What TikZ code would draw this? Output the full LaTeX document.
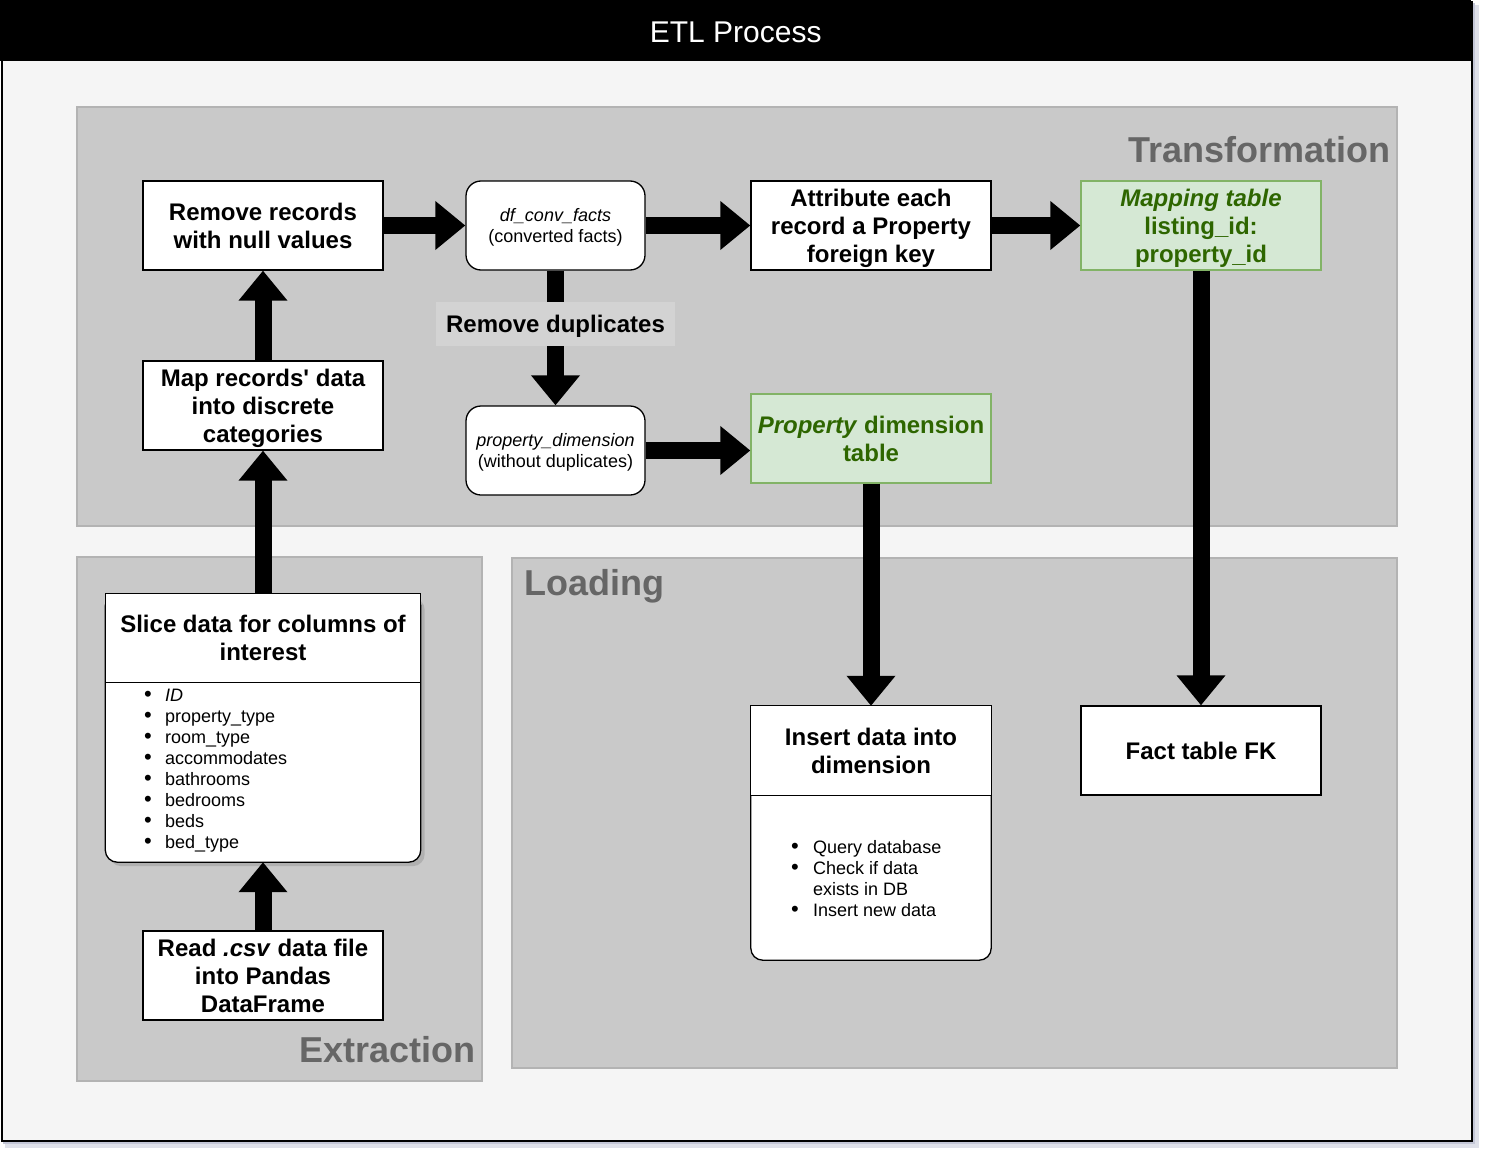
\documentclass[tikz,border=0pt]{standalone}
\usepackage{fontspec}
\newfontfamily\lsans{Liberation Sans}
\usetikzlibrary{arrows.meta,shadows,calc}
\definecolor{bgc}{HTML}{F5F5F5}
\definecolor{regc}{HTML}{C9C9C9}
\definecolor{regl}{HTML}{B3B3B3}
\definecolor{labc}{HTML}{D3D3D3}
\definecolor{regt}{HTML}{666666}
\definecolor{gfill}{HTML}{D5E8D4}
\definecolor{gline}{HTML}{82B366}
\definecolor{gtext}{HTML}{2E6600}
\definecolor{shc}{HTML}{C3C6D6}
\newcommand{\bTop}{\rule{0pt}{23pt}}
\newcommand{\bBot}{\rule[-5.7pt]{0pt}{5.7pt}}
\newcommand{\sTop}{\rule{0pt}{17.5pt}}
\newcommand{\sBot}{\rule[-4.6pt]{0pt}{4.6pt}}
\begin{document}
\begin{tikzpicture}[x=1pt,y=-1pt,
  region/.style={draw=regl, line width=2pt, fill=regc, inner sep=0pt},
  bfont/.style={font=\lsans\bfseries\fontsize{24}{28}\selectfont},
  sfont/.style={font=\lsans\fontsize{18}{21}\selectfont},
  box/.style={draw=black, line width=1.3pt, fill=white, minimum width=240pt, minimum height=89pt, align=center, inner sep=0pt, bfont},
  gbox/.style={box, fill=gfill, draw=gline, text=gtext},
  rbox/.style={draw=black, line width=1.3pt, fill=white, minimum height=89pt, align=center, inner sep=0pt, rounded corners=15pt, minimum width=179pt, sfont},
  blk/.style={line width=17pt, -{Triangle[length=30pt,width=47pt]}},
  reglabel/.style={font=\lsans\bfseries\fontsize{36}{42}\selectfont, text=regt, inner sep=0pt},
  item/.style={font=\lsans\fontsize{18}{21}\selectfont, inner sep=0pt},
  bul/.style={font=\lsans\fontsize{22}{21}\selectfont, inner sep=0pt},
  plain/.style={draw=black, line width=1.3pt, fill=white}
]
\useasboundingbox (0,0) rectangle (1486,1156);
% outer frame with shadow
\fill[shc!55] (5,5) rectangle (1479,1148);
\fill[shc] (3,3) rectangle (1475,1144);
\node[draw=black, line width=2pt, fill=bgc, minimum width=1470pt, minimum height=1139pt, anchor=north west, inner sep=0pt] (frame) at (1,1) {};
\node[fill=black, minimum width=1471pt, minimum height=61pt, anchor=north west, inner sep=0pt, text=white, font=\lsans\fontsize{30}{34}\selectfont] (title) at (0,0) {\rule{0pt}{24pt}ETL Process};

% regions
\node[region, minimum width=1320pt, minimum height=419pt, anchor=north west] (trans) at (76,106) {};
\node[region, minimum width=405pt, minimum height=524pt, anchor=north west] (extr) at (76,556) {};
\node[region, minimum width=885pt, minimum height=510pt, anchor=north west] (load) at (511,557) {};
\node[reglabel, anchor=base east] (translab) at (1391,162) {Transformation};
\node[reglabel, anchor=base west] (loadlab) at (524,595) {Loading};
\node[reglabel, anchor=base east] (extrlab) at (476,1062) {Extraction};

% transformation boxes
\node[box] (rr) at (263,225.5) {\bTop Remove records\\with null values\bBot};
\node[rbox] (dc) at (555.5,225.5) {\sTop\textit{df\_conv\_facts}\\(converted facts)\sBot};
\node[box] (att) at (871,225.5) {\bTop Attribute each\\record a Property\\foreign key\bBot};
\node[gbox] (mt) at (1201,225.5) {\bTop\textit{Mapping table}\\listing\_id:\\property\_id\bBot};
\node[rbox] (pdim) at (555.5,450.5) {\sTop\textit{property\_dimension}\\(without duplicates)\sBot};
\node[gbox] (pdt) at (871,438.5) {\bTop\textit{Property} dimension\\table\bBot};
\node[box] (mrec) at (263,405.5) {\bTop Map records' data\\into discrete\\categories\bBot};

% extraction
\node[minimum width=315pt, minimum height=268pt, inner sep=0pt] (slice) at (263,728) {};
\draw[plain, rounded corners=12pt, drop shadow={shadow xshift=4pt, shadow yshift=-4pt, fill=black!40}] (slice.north west) rectangle (slice.south east);
\draw[plain] (slice.north west) rectangle ($(slice.north east)+(0,89)$);
\node[bfont, align=center, inner sep=0pt] (slhead) at ($(slice.north)+(0,44.5)$) {\bTop Slice data for columns of\\interest\bBot};
\foreach \t [count=\i from 0] in {\textit{ID},property\_type,room\_type,accommodates,bathrooms,bedrooms,beds,bed\_type}{
  \node[bul, anchor=base] (sb\i) at (148,701+21*\i) {•};
  \node[item, anchor=base west] (st\i) at (165,701+21*\i) {\t};
}
\node[box] (read) at (263,975.5) {\bTop Read \textit{.csv} data file\\into Pandas\\DataFrame\bBot};

% loading
\node[minimum width=240pt, minimum height=254pt, inner sep=0pt] (ins) at (871,833) {};
\draw[plain, rounded corners=12pt] (ins.north west) rectangle (ins.south east);
\draw[plain] (ins.north west) rectangle ($(ins.north east)+(0,90)$);
\node[bfont, align=center, inner sep=0pt] (inshead) at ($(ins.north)+(0,45)$) {\bTop Insert data into\\dimension\bBot};
\node[bul, anchor=base] (ib1) at (795,853) {•};
\node[item, anchor=base west] (it1) at (813,853) {Query database};
\node[bul, anchor=base] (ib2) at (795,874) {•};
\node[item, anchor=base west] (it2) at (813,874) {Check if data};
\node[item, anchor=base west] (it2b) at (813,895) {exists in DB};
\node[bul, anchor=base] (ib3) at (795,916) {•};
\node[item, anchor=base west] (it3) at (813,916) {Insert new data};
\node[box] (fact) at (1201,750.5) {\bTop Fact table FK\bBot};

% arrows
\draw[blk] (rr.east) -- (dc.west);
\draw[blk] (dc.east) -- (att.west);
\draw[blk] (att.east) -- (mt.west);
\draw[blk] (dc.south) -- (pdim.north);
\draw[blk] (pdim.east) -- (pdim.east -| pdt.west);
\draw[blk] (pdt.south) -- (ins.north);
\draw[blk] (mt.south) -- (fact.north);
\draw[blk] (slice.north) -- (mrec.south);
\draw[blk] (mrec.north) -- (rr.south);
\draw[blk] (read.north) -- (slice.south);
\node[fill=labc, minimum width=239pt, minimum height=44pt, inner sep=0pt, bfont] (rdup) at (555.5,324) {\bTop Remove duplicates\bBot};
\end{tikzpicture}
\end{document}
